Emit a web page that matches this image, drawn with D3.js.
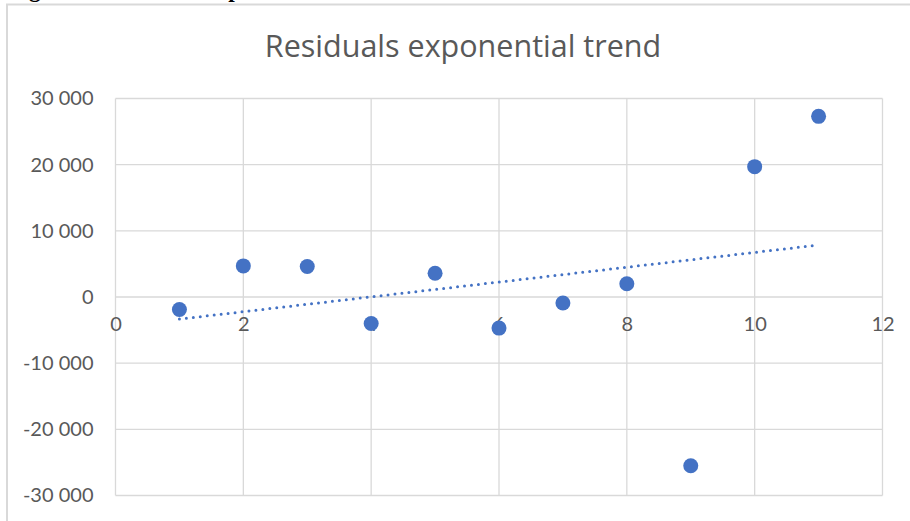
<!DOCTYPE html>
<html>
<head>
<meta charset="utf-8">
<script src="https://cdn.jsdelivr.net/npm/d3@7"></script>
<style>
  html, body { margin: 0; padding: 0; background: #fff; }
  svg { display: block; }
</style>
</head>
<body>
<svg id="chart" width="910" height="521"></svg>
<script>
// Residuals of the exponential model, by observation number
const xValues = [1, 2, 3, 4, 5, 6, 7, 8, 9, 10, 11];
const residuals = [-1900, 4700, 4600, -4000, 3600, -4700, -900, 2000, -25500, 19700, 27300];

const xTicks = [0, 2, 4, 6, 8, 10, 12];
const yTicks = [-30000, -20000, -10000, 0, 10000, 20000, 30000];

const titleText = "Residuals exponential trend";
const captionText = "Figure 8. Residuals exponential trend";

const W = 910, H = 521;
const plot = { left: 115.5, right: 882.5, top: 98.5, bottom: 495.5 };
const textColor = "#595959";
const gridColor = "#d9d9d9";
const markColor = "#4472c4";
const fontFamily = "Lato, 'Open Sans', sans-serif";
const titleFont = "'Open Sans', Lato, sans-serif";

const svg = d3.select("#chart");

const x = d3.scaleLinear().domain([0, 12]).range([plot.left, plot.right]);
const y = d3.scaleLinear().domain([-30000, 30000]).range([plot.bottom, plot.top]);

// Number format with a space as thousands separator
const locale = d3.formatLocale({ decimal: ",", thousands: "\u00a0", grouping: [3], currency: ["", ""], minus: "-" });
const fmt = locale.format(",d");

// Document caption above the chart frame (mostly outside the page)
svg.append("text")
  .attr("x", 8).attr("y", -3)
  .attr("font-family", "'Liberation Serif', 'Times New Roman', serif")
  .attr("font-weight", "bold")
  .attr("font-size", 23.5)
  .attr("fill", "#000")
  .text(captionText);

// Chart frame
svg.append("path")
  .attr("d", `M7,${H} V4.5 H${W}`)
  .attr("fill", "none")
  .attr("stroke", gridColor)
  .attr("stroke-width", 2);

// Title
svg.append("text")
  .attr("x", 463).attr("y", 56.5)
  .attr("text-anchor", "middle")
  .attr("font-family", titleFont)
  .attr("font-size", 30.5)
  .attr("fill", textColor)
  .text(titleText);

// Gridlines
const grid = svg.append("g").attr("stroke", gridColor).attr("stroke-width", 1.3);
grid.selectAll("line.h").data(yTicks).join("line")
  .attr("class", "h")
  .attr("x1", plot.left).attr("x2", plot.right)
  .attr("y1", d => y(d)).attr("y2", d => y(d));
grid.selectAll("line.v").data(xTicks).join("line")
  .attr("class", "v")
  .attr("y1", plot.top).attr("y2", plot.bottom)
  .attr("x1", d => x(d)).attr("x2", d => x(d));

// Y axis labels
const yAxis = svg.append("g")
  .attr("transform", `translate(${plot.left - 22},0)`)
  .call(d3.axisLeft(y).tickValues(yTicks).tickFormat(fmt).tickSize(0).tickPadding(0));
yAxis.select(".domain").remove();
yAxis.selectAll("text")
  .attr("font-family", fontFamily)
  .attr("font-size", 20)
  .attr("fill", textColor);

// X axis labels, placed along the zero line
const xAxis = svg.append("g")
  .attr("transform", `translate(0,${y(0)})`)
  .call(d3.axisBottom(x).tickValues(xTicks).tickFormat(d3.format("d")).tickSize(0).tickPadding(20));
xAxis.select(".domain").remove();
xAxis.selectAll("text")
  .attr("font-family", fontFamily)
  .attr("font-size", 20)
  .attr("fill", textColor);

// Linear trendline fitted to the residuals
const mx = d3.mean(xValues), my = d3.mean(residuals);
const slope = d3.sum(xValues, (v, i) => (v - mx) * (residuals[i] - my)) / d3.sum(xValues, v => (v - mx) ** 2);
const intercept = my - slope * mx;
const trendX = [d3.min(xValues), d3.max(xValues)];
svg.append("path")
  .datum(trendX)
  .attr("d", d3.line().x(d => x(d)).y(d => y(intercept + slope * d)))
  .attr("fill", "none")
  .attr("stroke", markColor)
  .attr("stroke-width", 3)
  .attr("stroke-linecap", "round")
  .attr("stroke-dasharray", "0 7");

// Residual points
svg.append("g").selectAll("circle")
  .data(xValues.map((v, i) => ({ x: v, y: residuals[i] })))
  .join("circle")
  .attr("cx", d => x(d.x))
  .attr("cy", d => y(d.y))
  .attr("r", 7.5)
  .attr("fill", markColor);
</script>
</body>
</html>
